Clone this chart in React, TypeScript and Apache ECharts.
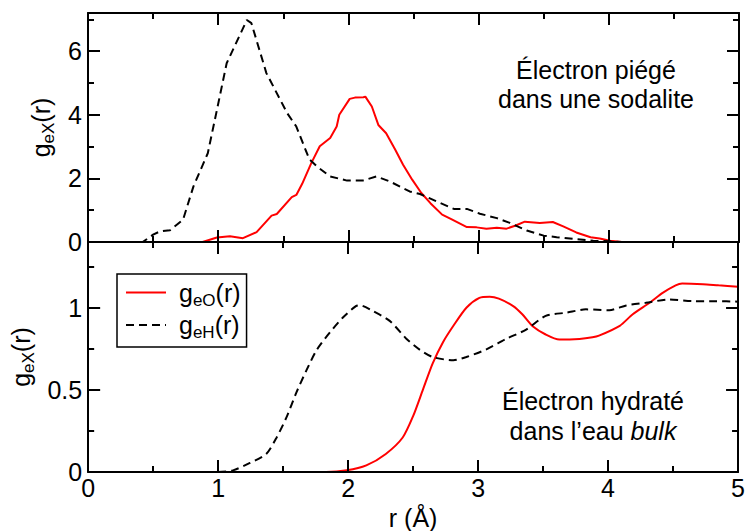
import React, { useEffect, useRef } from "react";
import * as echarts from "echarts";

const FONT = '"Liberation Sans", Arial, sans-serif';

// r (Å) range and y ranges
const xRange = [0, 5];
const topYRange = [0, 7.2];
const bottomYRange = [0, 1.4];
const topYStep = [2, 1]; // major, minor
const bottomYStep = [0.5, 0.25];

// Électron piégé dans une sodalite
const sodaliteO: [number, number][] = [
  [0, 0], [0.88, 0], [0.99, 0.14], [1.09, 0.18], [1.19, 0.12], [1.295, 0.31],
  [1.41, 0.83], [1.45, 0.88], [1.565, 1.41], [1.6, 1.48], [1.645, 1.83],
  [1.715, 2.48], [1.78, 3.01], [1.86, 3.27], [1.91, 3.63], [1.93, 4.0],
  [2.01, 4.5], [2.05, 4.54], [2.115, 4.55], [2.13, 4.57], [2.18, 4.26],
  [2.23, 3.68], [2.29, 3.42], [2.36, 2.9], [2.42, 2.43], [2.49, 1.96],
  [2.56, 1.54], [2.63, 1.22], [2.72, 0.86], [2.79, 0.72], [2.91, 0.47],
  [2.985, 0.46], [3.06, 0.42], [3.14, 0.45], [3.215, 0.42], [3.28, 0.51],
  [3.355, 0.64], [3.47, 0.6], [3.57, 0.63], [3.65, 0.49], [3.75, 0.3],
  [3.86, 0.15], [3.93, 0.11], [4.01, 0.04], [4.1, 0], [5, 0],
];
const sodaliteH: [number, number][] = [
  [0, 0], [0.42, 0], [0.5, 0.23], [0.55, 0.33], [0.63, 0.37], [0.73, 0.7],
  [0.81, 1.75], [0.92, 2.79], [0.99, 4.15], [1.065, 5.62], [1.22, 6.98],
  [1.255, 6.88], [1.37, 5.31], [1.53, 4.05], [1.6, 3.63], [1.7, 2.6],
  [1.76, 2.37], [1.86, 2.06], [1.99, 1.93], [2.11, 1.93], [2.215, 2.06],
  [2.32, 1.9], [2.47, 1.59], [2.55, 1.51], [2.68, 1.27], [2.81, 1.04],
  [2.91, 1.04], [3.01, 0.89], [3.14, 0.75], [3.24, 0.6], [3.37, 0.36],
  [3.5, 0.2], [3.6, 0.15], [3.75, 0.09], [3.88, 0.04], [4.01, 0.02],
  [4.1, 0], [5, 0],
];

// Électron hydraté dans l'eau bulk
const bulkO: [number, number][] = [
  [0, 0], [1.83, 0], [1.99, 0.01], [2.14, 0.04], [2.29, 0.11], [2.42, 0.21],
  [2.5, 0.34], [2.575, 0.5], [2.65, 0.66], [2.73, 0.79], [2.81, 0.89],
  [2.91, 1.0], [3.01, 1.06], [3.09, 1.067], [3.16, 1.055], [3.27, 1.01],
  [3.34, 0.96], [3.42, 0.887], [3.52, 0.837], [3.625, 0.806], [3.78, 0.81],
  [3.88, 0.82], [3.93, 0.83], [4.09, 0.89], [4.19, 0.96], [4.32, 1.03],
  [4.42, 1.09], [4.52, 1.136], [4.57, 1.147], [4.73, 1.143], [4.85, 1.136],
  [5.0, 1.128],
];
const bulkH: [number, number][] = [
  [0, 0], [1.0, 0], [1.115, 0.01], [1.245, 0.055], [1.37, 0.11], [1.45, 0.21],
  [1.53, 0.34], [1.6, 0.48], [1.68, 0.62], [1.76, 0.745], [1.86, 0.85],
  [1.96, 0.94], [2.06, 1.01], [2.09, 1.015], [2.19, 0.98], [2.32, 0.92],
  [2.45, 0.81], [2.55, 0.745], [2.65, 0.7], [2.81, 0.68], [2.91, 0.7],
  [3.06, 0.745], [3.215, 0.81], [3.37, 0.867], [3.52, 0.95], [3.68, 0.97],
  [3.83, 0.99], [4.01, 0.985], [4.14, 1.014], [4.29, 1.03], [4.47, 1.05],
  [4.65, 1.04], [4.83, 1.04], [5.0, 1.037],
];

const nameO = "geO(r)";
const nameH = "geH(r)";
const subLabel: Record<string, string> = {
  [nameO]: "{p|g}{s|eO}{m|(r)}",
  [nameH]: "{p|g}{s|eH}{m|(r)}",
};

const RED = "#ff0000";
const DASH = [8, 5];

const richSub = {
  m: { fontSize: 25, fontFamily: FONT, lineHeight: 32, verticalAlign: "middle", color: "#000" },
  p: { fontSize: 25, fontFamily: FONT, lineHeight: 32, verticalAlign: "middle", color: "#000", padding: [0, 0, 0, 8] },
  s: { fontSize: 17, fontFamily: FONT, lineHeight: 17, verticalAlign: "bottom", color: "#000" },
};
const richAxis = {
  m: richSub.m,
  s: richSub.s,
};

const lineBlack = { color: "#000", width: 2 };

function xAxisFor(grid: number, position: "top" | "bottom", labels: boolean, name?: string) {
  return {
    type: "value",
    gridIndex: grid,
    position,
    min: xRange[0],
    max: xRange[1],
    interval: 1,
    z: 10,
    name: name || "",
    nameLocation: "middle",
    nameGap: 33,
    nameTextStyle: { fontSize: 25, fontFamily: FONT, color: "#000" },
    axisLine: { show: true, onZero: false, lineStyle: lineBlack },
    axisTick: { show: true, inside: true, length: 12, lineStyle: lineBlack },
    minorTick: { show: true, splitNumber: 2, length: 6, lineStyle: lineBlack },
    splitLine: { show: false },
    minorSplitLine: { show: false },
    axisLabel: {
      show: labels,
      margin: 3,
      fontSize: 25,
      fontFamily: FONT,
      color: "#000",
    },
  };
}

function yAxisFor(
  grid: number,
  position: "left" | "right",
  range: number[],
  interval: number,
  major: boolean,
  labels: boolean,
  name?: string
) {
  return {
    type: "value",
    gridIndex: grid,
    position,
    min: range[0],
    max: range[1],
    interval,
    z: 10,
    name: name || "",
    nameLocation: "middle",
    nameRotate: 90,
    nameGap: 27,
    nameTextStyle: { rich: richAxis },
    axisLine: { show: major, onZero: false, lineStyle: lineBlack },
    axisTick: { show: true, inside: true, length: major ? 12 : 6, lineStyle: lineBlack },
    splitLine: { show: false },
    axisLabel: {
      show: labels,
      showMaxLabel: false,
      margin: 6,
      fontSize: 25,
      fontFamily: FONT,
      color: "#000",
    },
  };
}

function lineSeries(name: string, data: [number, number][], grid: number, dashed: boolean, smooth: number) {
  return {
    type: "line",
    name,
    xAxisIndex: grid * 2,
    yAxisIndex: grid * 4,
    data,
    symbol: "none",
    showSymbol: false,
    smooth,
    z: 2,
    itemStyle: { color: dashed ? "#000" : RED },
    lineStyle: { color: dashed ? "#000" : RED, width: 2, type: dashed ? DASH : "solid" },
  };
}

export default function App() {
  const ref = useRef<HTMLDivElement>(null);
  useEffect(() => {
    if (!ref.current) return;
    const chart = echarts.init(ref.current, undefined, { renderer: "svg" });
    const yName = "{m|g}{s|eX}{m|(r)}";
    chart.setOption({
      animation: false,
      backgroundColor: "#fff",
      textStyle: { fontFamily: FONT },
      grid: [
        { left: 88, top: 13, width: 651, height: 229 },
        { left: 88, top: 242, width: 651, height: 230 },
      ],
      xAxis: [
        xAxisFor(0, "bottom", false),
        xAxisFor(0, "top", false),
        xAxisFor(1, "bottom", true, "r (Å)"),
        xAxisFor(1, "top", false),
      ],
      yAxis: [
        yAxisFor(0, "left", topYRange, topYStep[0], true, true, yName),
        yAxisFor(0, "left", topYRange, topYStep[1], false, false),
        yAxisFor(0, "right", topYRange, topYStep[0], true, false),
        yAxisFor(0, "right", topYRange, topYStep[1], false, false),
        yAxisFor(1, "left", bottomYRange, bottomYStep[0], true, true, yName),
        yAxisFor(1, "left", bottomYRange, bottomYStep[1], false, false),
        yAxisFor(1, "right", bottomYRange, bottomYStep[0], true, false),
        yAxisFor(1, "right", bottomYRange, bottomYStep[1], false, false),
      ],
      legend: {
        orient: "vertical",
        left: 117,
        top: 274,
        padding: [6, 6, 6, 8],
        itemGap: 4,
        itemWidth: 40,
        itemHeight: 14,
        borderColor: "#000",
        borderWidth: 1.5,
        backgroundColor: "#fff",
        selectedMode: false,
        data: [nameO, nameH],
        itemStyle: { opacity: 0 },
        formatter: (n: string) => subLabel[n] || n,
        textStyle: { rich: richSub },
      },
      graphic: [
        {
          type: "text",
          x: 596,
          y: 84,
          z: 20,
          style: {
            text: "Électron piégé\ndans une sodalite",
            fontSize: 25,
            fontFamily: FONT,
            lineHeight: 29,
            align: "center",
            verticalAlign: "middle",
            fill: "#000",
          },
        },
        {
          type: "text",
          x: 593,
          y: 416,
          z: 20,
          style: {
            text: "{n|Électron hydraté}\n{n|dans l’eau }{i|bulk}",
            align: "center",
            verticalAlign: "middle",
            fill: "#000",
            rich: {
              n: { fontSize: 25, fontFamily: FONT, lineHeight: 30, fill: "#000" },
              i: { fontSize: 25, fontFamily: FONT, lineHeight: 30, fontStyle: "italic", fill: "#000" },
            },
          },
        },
      ],
      series: [
        lineSeries(nameO, sodaliteO, 0, false, 0),
        lineSeries(nameH, sodaliteH, 0, true, 0),
        lineSeries(nameO, bulkO, 1, false, 0.25),
        lineSeries(nameH, bulkH, 1, true, 0.25),
      ],
    });
    return () => chart.dispose();
  }, []);
  return (
    <div
      ref={ref}
      style={{ position: "fixed", left: 0, top: 0, width: 748, height: 531, background: "#fff" }}
    />
  );
}
